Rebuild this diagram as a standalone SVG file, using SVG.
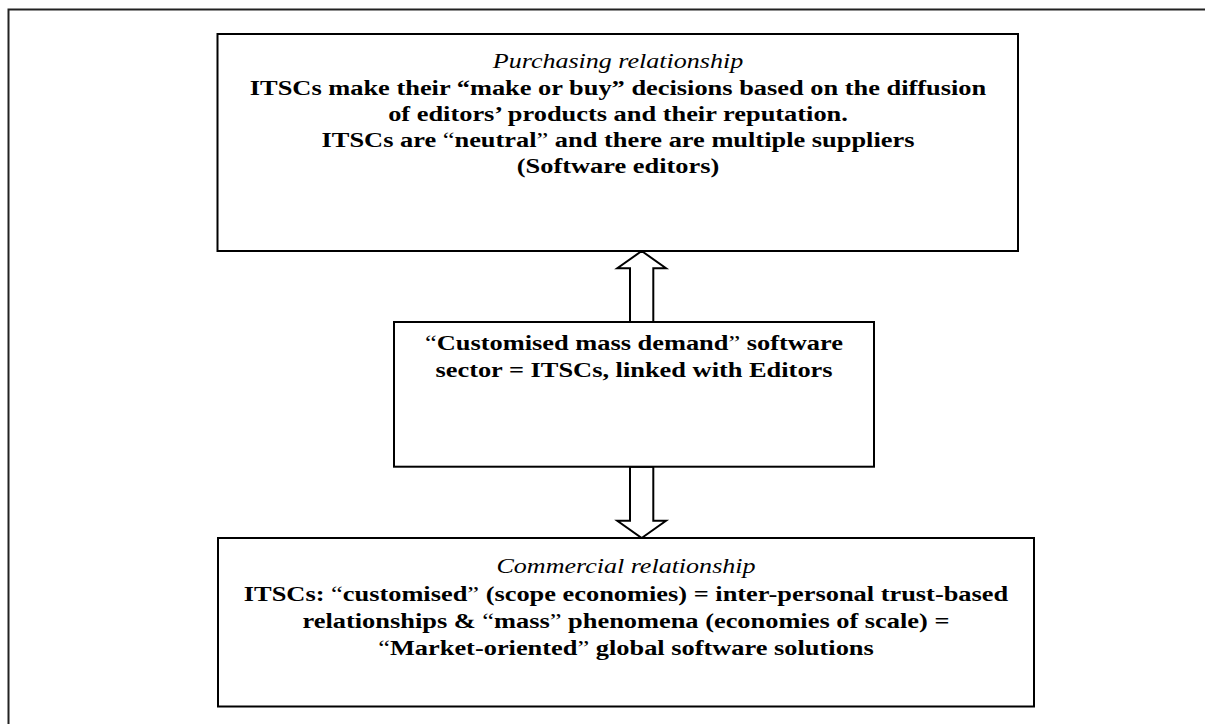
<svg xmlns="http://www.w3.org/2000/svg" width="1205" height="724" viewBox="0 0 1205 724">
<style>
.box{fill:#fff;stroke:#000;stroke-width:2}
.frame{fill:none;stroke:#222;stroke-width:2}
.arr{fill:#fff;stroke:#000;stroke-width:2;stroke-linejoin:miter}
text{font-family:"Liberation Serif","Times New Roman",serif;font-size:22px;font-weight:bold;text-anchor:middle;fill:#000}
.it{font-style:italic;font-weight:normal;font-size:21.7px}
.q{font-weight:normal}
</style>
<rect width="1205" height="724" fill="#fff"/>
<rect class="frame" x="8.5" y="9.5" width="1220" height="740"/>
<g id="connectors">
<path class="arr" d="M641.7,251 L666,268.3 L653.3,268.3 L653.3,322 L630,322 L630,268.3 L617.3,268.3 Z"/>
<path class="arr" d="M641.7,538 L666,520.7 L653.3,520.7 L653.3,466.7 L630,466.7 L630,520.7 L617.3,520.7 Z"/>
</g>
<g id="purchasing">
<rect class="box" x="217.5" y="34" width="800.5" height="217"/>
<g transform="translate(618,0) scale(1.2,1)">
<text x="0" y="68" class="it">Purchasing relationship</text>
<text x="0" y="95">ITSCs make their “make or buy” decisions based on the diffusion</text>
<text x="0" y="121">of editors’ products and their reputation.</text>
<text x="0" y="147">ITSCs are <tspan class="q">“</tspan>neutral<tspan class="q">”</tspan> and there are multiple suppliers</text>
<text x="0" y="173">(Software editors)</text>
</g>
</g>
<g id="sector">
<rect class="box" x="394" y="322" width="480" height="144.7"/>
<g transform="translate(634,0) scale(1.2,1)">
<text x="0" y="350"><tspan class="q">“</tspan>Customised mass demand<tspan class="q">”</tspan> software</text>
<text x="0" y="377">sector = ITSCs, linked with Editors</text>
</g>
</g>
<g id="commercial">
<rect class="box" x="218" y="538" width="816" height="168.5"/>
<g transform="translate(626,0) scale(1.2,1)">
<text x="0" y="573" class="it">Commercial relationship</text>
<text x="0" y="601">ITSCs: <tspan class="q">“</tspan>customised<tspan class="q">”</tspan> (scope economies) = inter-personal trust-based</text>
<text x="0" y="628">relationships &amp; <tspan class="q">“</tspan>mass<tspan class="q">”</tspan> phenomena (economies of scale) =</text>
<text x="0" y="655"><tspan class="q">“</tspan>Market-oriented<tspan class="q">”</tspan> global software solutions</text>
</g>
</g>
</svg>
